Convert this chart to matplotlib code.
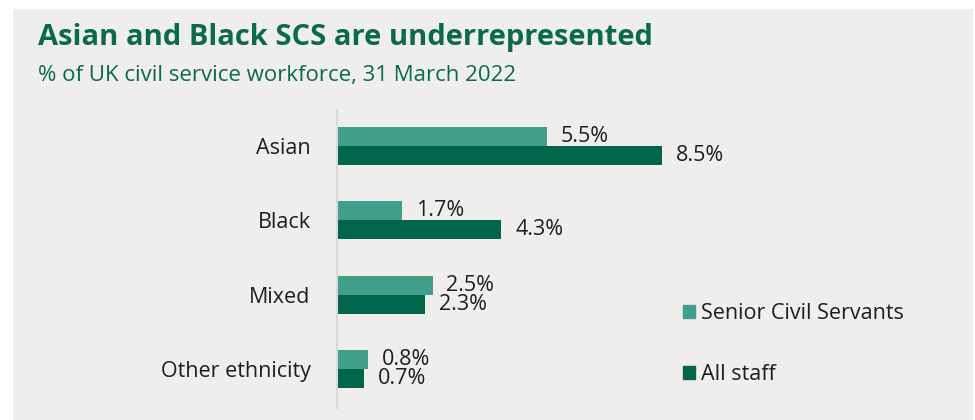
import matplotlib.pyplot as plt
import numpy as np
from matplotlib.patches import Patch, Rectangle

# ethnicity breakdown, % of UK civil service workforce at 31 March 2022
categories = ['Asian', 'Black', 'Mixed', 'Other ethnicity']
scs = [5.5, 1.7, 2.5, 0.8]
all_staff = [8.5, 4.3, 2.3, 0.7]
series_names = ['Senior Civil Servants', 'All staff']

title = 'Asian and Black SCS are underrepresented'
subtitle = '% of UK civil service workforce, 31 March 2022'

GREEN_LIGHT = '#419e89'
GREEN_DARK = '#00654a'
TITLE_GREEN = '#0b6a4a'
BG = '#efeeec'
TEXT = '#1e1e1e'

plt.rcParams['font.family'] = ['Open Sans', 'DejaVu Sans']

fig = plt.figure(figsize=(9.75, 4.2), dpi=100, facecolor='white')
# grey panel behind everything
fig.patches.append(Rectangle((13 / 975, 0), 960 / 975, 1 - 9 / 420,
                             transform=fig.transFigure, facecolor=BG,
                             edgecolor='none', zorder=-10))

ax = fig.add_axes([337 / 975, 12 / 420, 382 / 975, 298 / 420])
ax.set_facecolor('none')

y = np.arange(len(categories))
h = 0.255
b1 = ax.barh(y - h / 2, scs, height=h, color=GREEN_LIGHT, label=series_names[0])
b2 = ax.barh(y + h / 2, all_staff, height=h, color=GREEN_DARK, label=series_names[1])

for bars, vals in ((b1, scs), (b2, all_staff)):
    ax.bar_label(bars, labels=['%.1f%%' % v for v in vals], padding=10,
                 fontsize=15.5, color=TEXT)

ax.set_xlim(0, 10)
ax.set_ylim(3.52, -0.48)
ax.set_yticks(y)
ax.set_yticklabels(categories, fontsize=15.5, color=TEXT)
ax.tick_params(axis='y', length=0, pad=19)
ax.set_xticks([])
for s in ('top', 'right', 'bottom'):
    ax.spines[s].set_visible(False)
ax.spines['left'].set_color('#d9d9d9')
ax.spines['left'].set_linewidth(1.5)

handles = [Patch(color=GREEN_LIGHT), Patch(color=GREEN_DARK)]
fig.legend(handles, series_names, loc='center left',
           bbox_to_anchor=(664 / 975, 1 - 344 / 420), frameon=False,
           fontsize=15.5, handlelength=0.55, handleheight=0.55,
           handletextpad=0.28, labelspacing=1.84, labelcolor=TEXT)

fig.text(38 / 975, 1 - 38 / 420, title, fontsize=21, fontweight='bold',
         color=TITLE_GREEN, va='center', ha='left')
fig.text(38 / 975, 1 - 76 / 420, subtitle, fontsize=16,
         color=TITLE_GREEN, va='center', ha='left')

fig.savefig('out.png', dpi=100, facecolor=fig.get_facecolor())
